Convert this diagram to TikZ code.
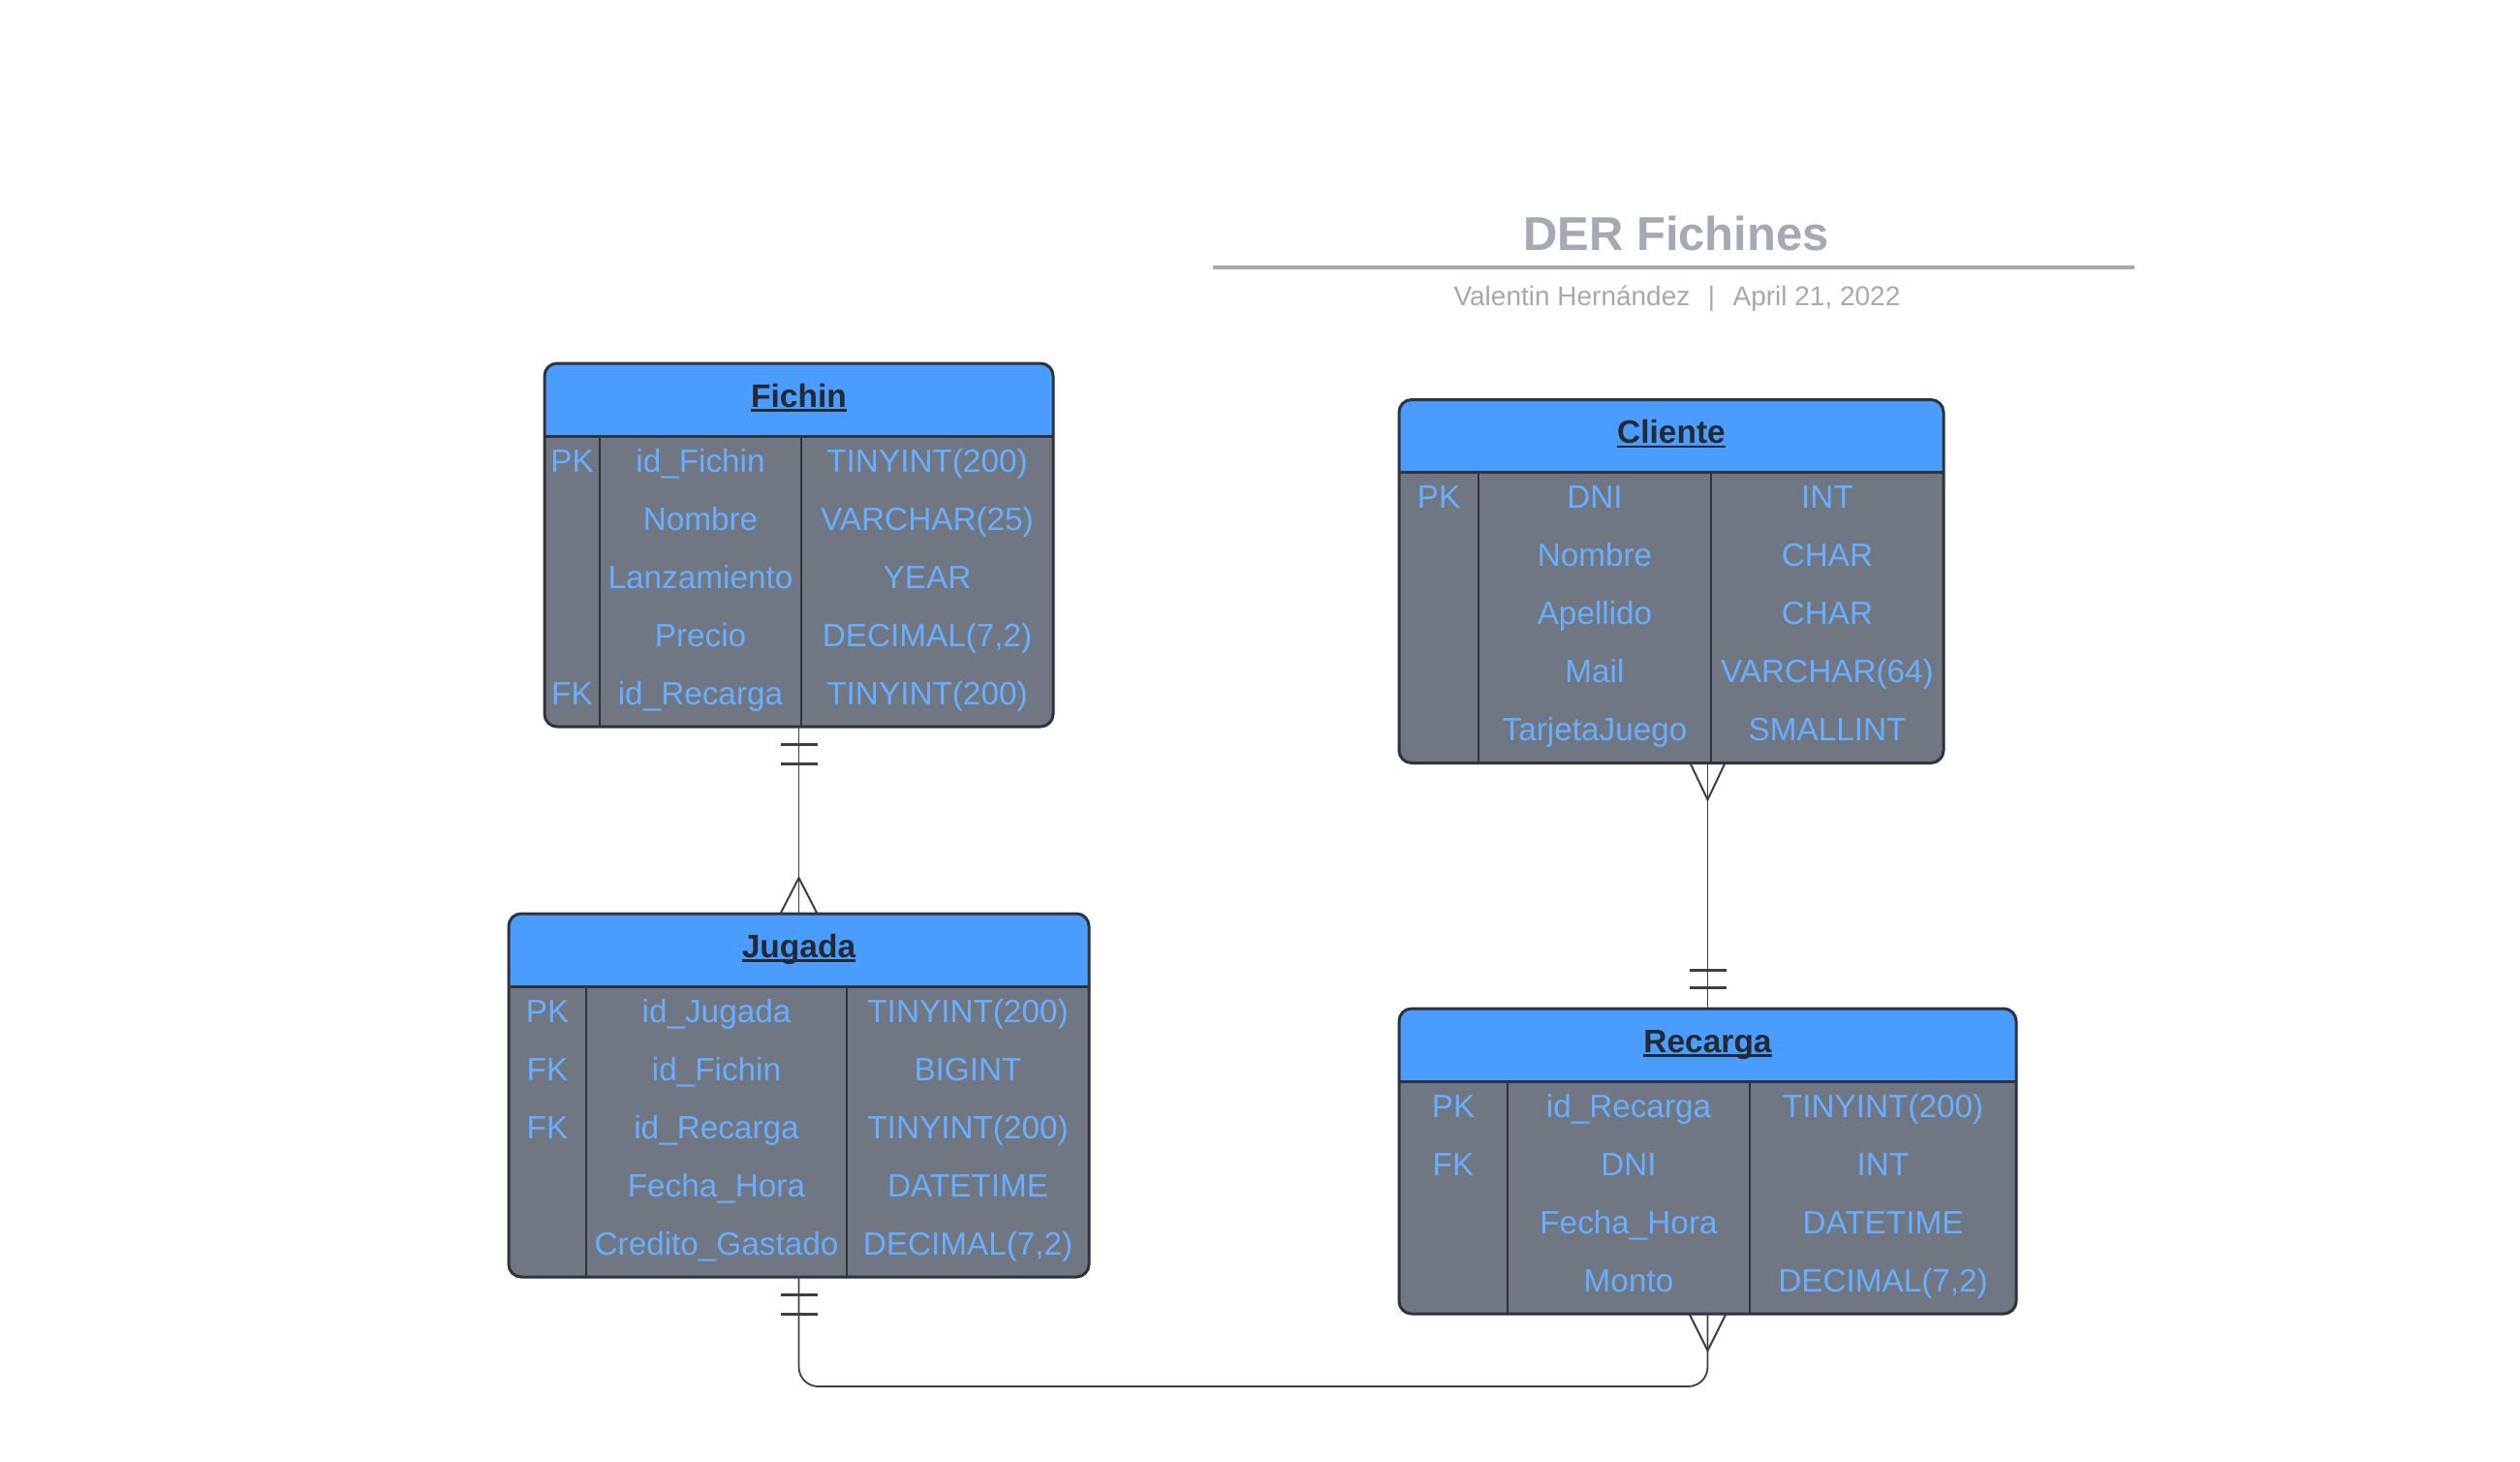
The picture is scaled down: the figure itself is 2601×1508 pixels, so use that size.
\documentclass[tikz,border=0pt]{standalone}
\usepackage{fontspec}
\setmainfont{Liberation Sans}
\usetikzlibrary{calc}
\definecolor{hdrc}{HTML}{4A9CFF}
\definecolor{bodyc}{HTML}{707782}
\definecolor{bordc}{HTML}{2F343C}
\definecolor{attrc}{HTML}{68AEFF}
\definecolor{hdrtext}{HTML}{252A32}
\definecolor{titlec}{HTML}{A3AAB4}
\definecolor{linec}{HTML}{3A3F48}
\newcommand\attrfont{\fontsize{33.3}{40}\selectfont}
\newcommand\hdrfont{\fontsize{33.5}{40}\selectfont\bfseries}
\tikzset{
  tblnode/.style={inner sep=0pt, outer sep=0pt, anchor=north west, draw=none},
  tblborder/.style={draw=bordc, line width=3pt, rounded corners=13pt},
  divline/.style={draw=bordc, line width=2.2pt},
  sepline/.style={draw=bordc, line width=3pt},
  cell/.style={text=attrc, font=\attrfont, anchor=base, inner sep=0pt},
  hdr/.style={text=hdrtext, font=\hdrfont, anchor=base, inner sep=0pt},
  rel/.style={draw=linec, line width=1.8pt},
  foot/.style={draw=linec, line width=2pt},
  onebar/.style={draw=linec, line width=3pt},
}
% #1 name #2 left #3 top #4 right #5 div1 #6 div2 #7 rows #8 title #9 list
\newcommand\ertable[9]{%
  \pgfmathsetmacro\HB{#3+75}%
  \pgfmathsetmacro\Bot{#3+75+60*#7}%
  \node[tblnode, minimum width={(#4-#2)*1pt}, minimum height={(\Bot-#3)*1pt}] (#1) at (#2,#3) {};
  \fill[bodyc, rounded corners=13pt] (#1.north west) rectangle (#1.south east);
  \begin{scope}
    \clip[rounded corners=13pt] (#1.north west) rectangle (#1.south east);
    \fill[hdrc] (#2,#3) rectangle (#4,\HB);
  \end{scope}
  \draw[divline] (#5,\HB) -- (#5,\Bot);
  \draw[divline] (#6,\HB) -- (#6,\Bot);
  \draw[sepline] (#2,\HB) -- (#4,\HB);
  \draw[tblborder] (#1.north west) rectangle (#1.south east);
  \node[hdr] (#1-title) at ({(#2+#4)/2},#3+45) {#8};
  \draw[hdrtext, line width=2.6pt] ([yshift=-3.5pt]#1-title.base west) -- ([yshift=-3.5pt]#1-title.base east);
  \foreach \colA/\colB/\colC [count=\i] in {#9} {%
    \pgfmathsetmacro\yb{\HB+37+60*(\i-1)}%
    \node[cell] (#1-k\i) at ({(#2+#5)/2},\yb) {\colA};
    \node[cell] (#1-n\i) at ({(#5+#6)/2},\yb) {\colB};
    \node[cell] (#1-t\i) at ({(#6+#4)/2},\yb) {\colC};
  }%
}
\begin{document}
\begin{tikzpicture}[x=1pt,y=-1pt]
\useasboundingbox[fill=white] (0,0) rectangle (2601,1508);

% title block
\node[anchor=base, inner sep=0pt, text=titlec, font=\fontsize{49}{58}\selectfont\bfseries] (title) at (1730,258) {DER Fichines};
\coordinate (tl-a) at (1252,276);
\coordinate (tl-b) at (2203,276);
\draw[titlec, line width=4pt] (tl-a) -- (tl-b);
\node[anchor=base, inner sep=0pt, text=titlec, font=\fontsize{28}{34}\selectfont] (subtitle) at (1731,315) {Valentin Hernández\hspace{18.5pt}|\hspace{18.5pt}April 21, 2022};

% tables
\ertable{fichin}{562}{375}{1087}{619}{827}{5}{Fichin}{PK/id\_Fichin/TINYINT(200), {}/Nombre/VARCHAR(25), {}/Lanzamiento/YEAR, {}/Precio/DECIMAL(7{,}2), FK/id\_Recarga/TINYINT(200)}
\ertable{cliente}{1444}{412.5}{2006}{1526}{1766}{5}{Cliente}{PK/DNI/INT, {}/Nombre/CHAR, {}/Apellido/CHAR, {}/Mail/VARCHAR(64), {}/TarjetaJuego/SMALLINT}
\ertable{jugada}{525}{943}{1124}{605}{874}{5}{Jugada}{PK/id\_Jugada/TINYINT(200), FK/id\_Fichin/BIGINT, FK/id\_Recarga/TINYINT(200), {}/Fecha\_Hora/DATETIME, {}/Credito\_Gastado/DECIMAL(7{,}2)}
\ertable{recarga}{1444}{1041}{2081}{1556}{1806}{4}{Recarga}{PK/id\_Recarga/TINYINT(200), FK/DNI/INT, {}/Fecha\_Hora/DATETIME, {}/Monto/DECIMAL(7{,}2)}

% Fichin -- Jugada
\draw[rel] (jugada.north |- fichin.south) -- (jugada.north);
\draw[onebar] ([xshift=-19pt,yshift=-18pt]fichin.south) -- ([xshift=19pt,yshift=-18pt]fichin.south);
\draw[onebar] ([xshift=-19pt,yshift=-38pt]fichin.south) -- ([xshift=19pt,yshift=-38pt]fichin.south);
\draw[foot] ([xshift=-19pt]jugada.north) -- ([yshift=37pt]jugada.north) -- ([xshift=19pt]jugada.north);

% Cliente -- Recarga
\coordinate (cl-out) at (recarga.north |- cliente.south);
\draw[rel, line width=1.4pt] (cl-out) -- (recarga.north);
\draw[foot] ([xshift=-18pt]cl-out) -- ([yshift=-38pt]cl-out) -- ([xshift=18pt]cl-out);
\draw[onebar] ([xshift=-19pt,yshift=22pt]recarga.north) -- ([xshift=19pt,yshift=22pt]recarga.north);
\draw[onebar] ([xshift=-19pt,yshift=40pt]recarga.north) -- ([xshift=19pt,yshift=40pt]recarga.north);

% Jugada -- Recarga
\draw[rel, rounded corners=20pt] (jugada.south) -- ++(0,113) -| (recarga.south);
\draw[onebar] ([xshift=-19pt,yshift=-18pt]jugada.south) -- ([xshift=19pt,yshift=-18pt]jugada.south);
\draw[onebar] ([xshift=-19pt,yshift=-38pt]jugada.south) -- ([xshift=19pt,yshift=-38pt]jugada.south);
\draw[foot] ([xshift=-19pt]recarga.south) -- ([yshift=-38pt]recarga.south) -- ([xshift=19pt]recarga.south);
\end{tikzpicture}
\end{document}
